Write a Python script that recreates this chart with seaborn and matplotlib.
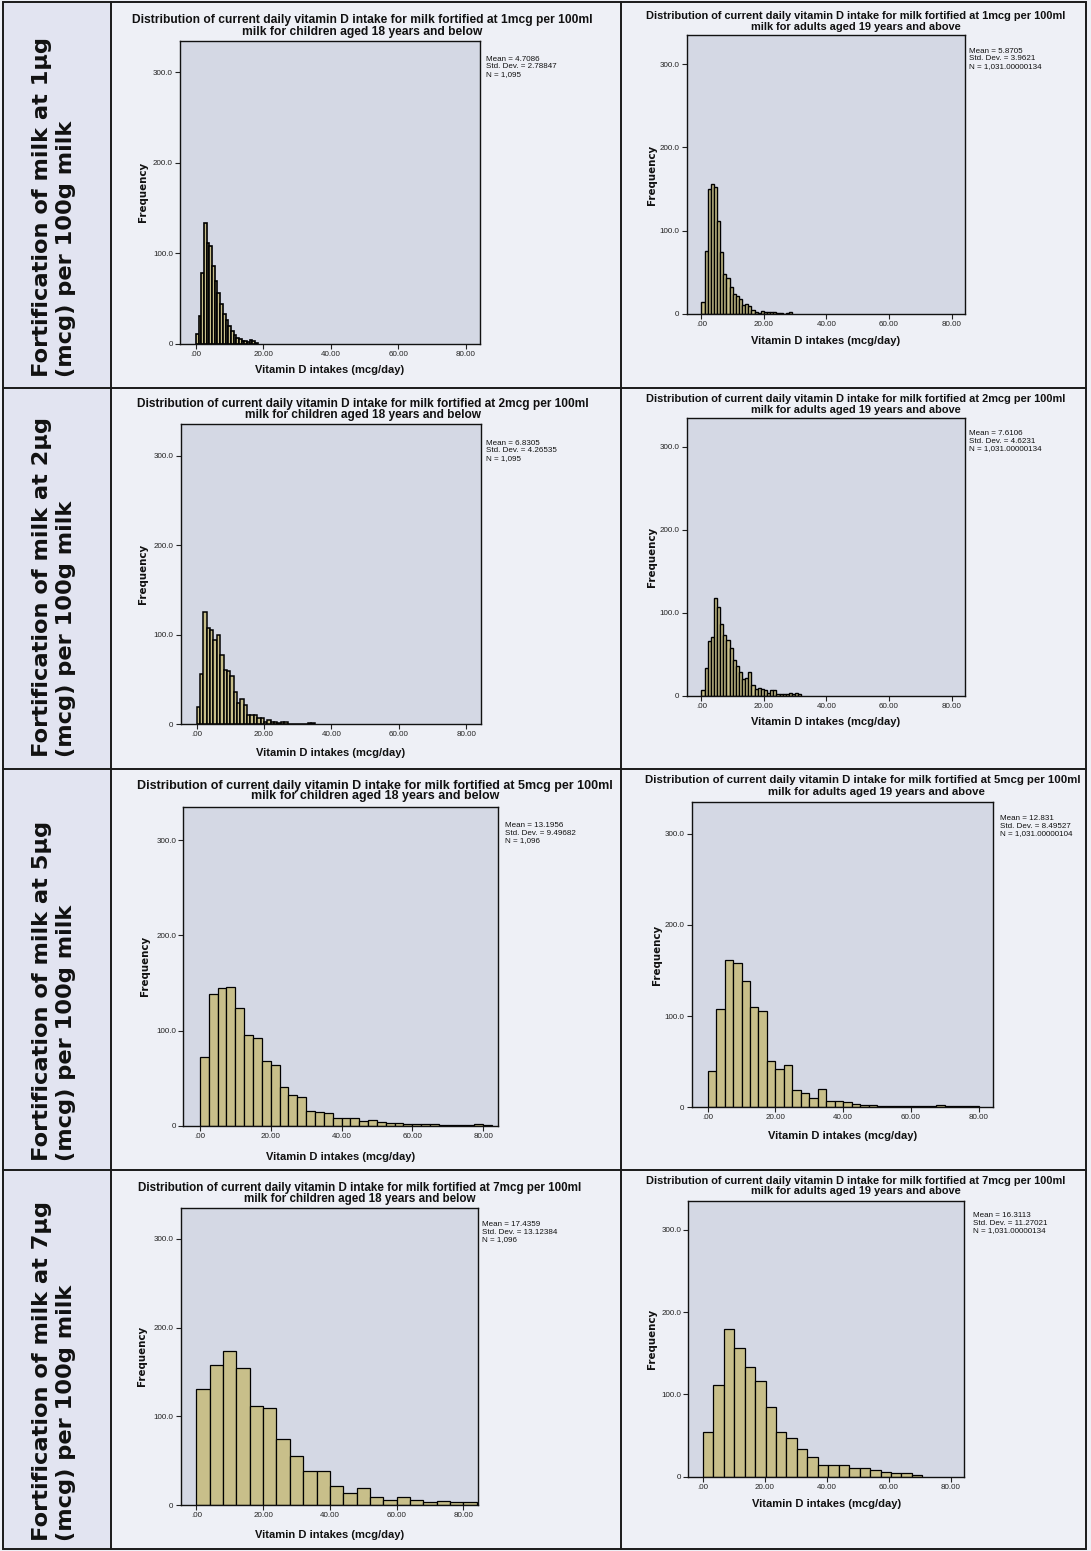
import numpy as np
import pandas as pd
import matplotlib
matplotlib.use("Agg")
import matplotlib.pyplot as plt
import seaborn as sns
from matplotlib.patches import Rectangle

# ------------------------------------------------------------------ data
row_labels = [
    "Fortification of milk at 1µg\n(mcg) per 100g milk",
    "Fortification of milk at 2µg\n(mcg) per 100g milk",
    "Fortification of milk at 5µg\n(mcg) per 100g milk",
    "Fortification of milk at 7µg\n(mcg) per 100g milk",
]
fortification_mcg = ["1", "2", "5", "7"]
title_line1 = "Distribution of current daily vitamin D intake for milk fortified at {}mcg per 100ml"
title_child = "milk for children aged 18 years and below"
title_adult = "milk for adults aged 19 years and above"
x_label = "Vitamin D intakes (mcg/day)"
y_label = "Frequency"

x_ticks = [0, 20, 40, 60, 80]
x_ticklabels = [".00", "20.00", "40.00", "60.00", "80.00"]
y_ticks = [0, 100, 200, 300]
y_ticklabels = ["0", "100.0", "200.0", "300.0"]

child_1mcg_counts = [11, 31, 78, 134, 112, 108, 86, 70, 56, 44, 33, 27, 20, 14, 10, 7, 5, 3, 3, 2, 4, 3, 1]
child_1mcg_bin = 0.8
adult_1mcg_counts = [14, 76, 150, 156, 152, 112, 75, 48, 43, 33, 24, 22, 18, 11, 12, 10, 5, 2, 1, 4, 3, 2, 3, 2, 1, 1, 0, 1, 2]
adult_1mcg_bin = 1.0
child_2mcg_counts = [19, 56, 125, 107, 105, 94, 100, 77, 61, 59, 54, 36, 24, 28, 21, 10, 10, 10, 7, 7, 3, 5, 3, 3, 2, 3, 3, 0, 0, 0, 0, 0, 0, 1, 1]
child_2mcg_bin = 1.0
adult_2mcg_counts = [7, 34, 66, 71, 118, 107, 87, 73, 68, 58, 43, 36, 29, 21, 22, 29, 13, 9, 10, 8, 7, 4, 7, 7, 3, 2, 3, 3, 4, 3, 4, 2]
adult_2mcg_bin = 1.0
child_5mcg_counts = [72, 139, 145, 146, 124, 95, 92, 68, 64, 41, 32, 30, 16, 15, 14, 8, 8, 8, 5, 6, 4, 3, 3, 2, 2, 2, 2, 1, 1, 1, 1, 2, 1]
child_5mcg_bin = 2.5
adult_5mcg_counts = [40, 108, 161, 158, 138, 110, 106, 51, 42, 46, 19, 16, 10, 20, 7, 7, 6, 4, 2, 2, 1, 1, 1, 1, 1, 1, 1, 3, 1, 1, 1, 1]
adult_5mcg_bin = 2.5
child_7mcg_counts = [131, 158, 173, 154, 111, 109, 74, 55, 38, 38, 21, 14, 19, 9, 6, 9, 6, 3, 4, 3, 3]
child_7mcg_bin = 4.0
adult_7mcg_counts = [54, 112, 179, 156, 133, 116, 85, 54, 47, 34, 24, 14, 14, 14, 10, 10, 8, 6, 5, 4, 2]
adult_7mcg_bin = 3.37

stats_child_1mcg = ["Mean = 4.7086", "Std. Dev. = 2.78847", "N = 1,095"]
stats_adult_1mcg = ["Mean = 5.8705", "Std. Dev. = 3.9621", "N = 1,031.00000134"]
stats_child_2mcg = ["Mean = 6.8305", "Std. Dev. = 4.26535", "N = 1,095"]
stats_adult_2mcg = ["Mean = 7.6106", "Std. Dev. = 4.6231", "N = 1,031.00000134"]
stats_child_5mcg = ["Mean = 13.1956", "Std. Dev. = 9.49682", "N = 1,096"]
stats_adult_5mcg = ["Mean = 12.831", "Std. Dev. = 8.49527", "N = 1,031.00000104"]
stats_child_7mcg = ["Mean = 17.4359", "Std. Dev. = 13.12384", "N = 1,096"]
stats_adult_7mcg = ["Mean = 16.3113", "Std. Dev. = 11.27021", "N = 1,031.00000134"]

# ------------------------------------------------------------------ style
sns.set_style("white")
plt.rcParams["font.family"] = ["Liberation Sans", "DejaVu Sans"]

W, H = 1091, 1551
CELL_BG = "#eef0f6"
LABEL_BG = "#e2e4f1"
PLOT_BG = "#d4d8e4"
BAR = "#c8bf8a"
LINE = "#1a1a1a"
XLIM = (-4.7, 84.3)
YLIM = (0, 335)

fig = plt.figure(figsize=(W / 100, H / 100), dpi=100, facecolor=CELL_BG)
bg = fig.add_axes([0, 0, 1, 1])
bg.set_xlim(0, W)
bg.set_ylim(H, 0)
bg.axis("off")

# table
bg.add_patch(Rectangle((3, 2), 108, 1547, facecolor=LABEL_BG, edgecolor="none"))
tbl_lw = 1.4
bg.add_patch(Rectangle((3, 2), 1083, 1547, facecolor="none", edgecolor=LINE, lw=tbl_lw))
for xx in [111, 621]:
    bg.plot([xx, xx], [2, 1549], color=LINE, lw=tbl_lw)
for yy in [388, 769, 1170]:
    bg.plot([3, 1086], [yy, yy], color=LINE, lw=tbl_lw)

renderer = fig.canvas.get_renderer()


def fit(t, target, vertical=False):
    bb = t.get_window_extent(renderer=renderer)
    w = bb.height if vertical else bb.width
    t.set_fontsize(t.get_fontsize() * target / w)
    return t.get_fontsize()


# row labels
row_bottoms = [377, 757, 1161, 1541]
for lab, yb in zip(row_labels, row_bottoms):
    first = bg.text(0, 0, lab.split("\n")[0], rotation=90, fontsize=16, fontweight="bold",
                    family="DejaVu Sans")
    fs = fit(first, 340, vertical=True)
    first.remove()
    bg.text(54, yb, lab, rotation=90, ha="center", va="bottom", multialignment="left",
            fontsize=fs, fontweight="bold", family="DejaVu Sans", color="#111111",
            linespacing=1.3)

# ------------------------------------------------------------------ panels
panels = [
    dict(counts=child_1mcg_counts, bw=child_1mcg_bin, stats=stats_child_1mcg, k="1", grp=title_child,
         frame=(180, 40.7, 480, 344), tcx=(362.5, 362.5), ty=(19.5, 31.5), tw=455, sxy=(486, 67), fx=143, xly=370, elw=1.2),
    dict(counts=adult_1mcg_counts, bw=adult_1mcg_bin, stats=stats_adult_1mcg, k="1", grp=title_adult,
         frame=(686.7, 35, 965, 314), tcx=(856, 856), ty=(15.7, 26.7), tw=418, sxy=(969, 59), fx=652, xly=340.7, elw=1.0),
    dict(counts=child_2mcg_counts, bw=child_2mcg_bin, stats=stats_child_2mcg, k="2", grp=title_child,
         frame=(180.7, 424.3, 480.7, 724.3), tcx=(363.3, 363.3), ty=(403.5, 415), tw=453, sxy=(486, 450.7), fx=143.3, xly=753.3, elw=1.1),
    dict(counts=adult_2mcg_counts, bw=adult_2mcg_bin, stats=stats_adult_2mcg, k="2", grp=title_adult,
         frame=(686.7, 417.7, 965, 696), tcx=(856, 856), ty=(399.5, 410), tw=418, sxy=(969, 441.3), fx=652.3, xly=721.7, elw=1.0),
    dict(counts=child_5mcg_counts, bw=child_5mcg_bin, stats=stats_child_5mcg, k="5", grp=title_child,
         frame=(183.3, 806.7, 498.3, 1126), tcx=(375, 375), ty=(785.5, 796.5), tw=474, sxy=(505, 833.3), fx=145, xly=1156.7, elw=0.9),
    dict(counts=adult_5mcg_counts, bw=adult_5mcg_bin, stats=stats_adult_5mcg, k="5", grp=title_adult,
         frame=(691.7, 801.7, 993.3, 1107.3), tcx=(863, 876), ty=(780, 791.7), tw=432, sxy=(1000, 826), fx=656.7, xly=1136, elw=0.9),
    dict(counts=child_7mcg_counts, bw=child_7mcg_bin, stats=stats_child_7mcg, k="7", grp=title_child,
         frame=(180.7, 1207.7, 477.7, 1505), tcx=(360, 360), ty=(1188.5, 1199), tw=443, sxy=(481.7, 1232.3), fx=142, xly=1535, elw=0.9),
    dict(counts=adult_7mcg_counts, bw=adult_7mcg_bin, stats=stats_adult_7mcg, k="7", grp=title_adult,
         frame=(688.3, 1201, 964.3, 1476.7), tcx=(856, 856), ty=(1180.5, 1191), tw=418, sxy=(973.3, 1223.3), fx=652.3, xly=1504.3, elw=0.9),
]

for p in panels:
    l, t_, r, b = p["frame"]
    ax = fig.add_axes([l / W, 1 - b / H, (r - l) / W, (b - t_) / H])
    counts = [float(c) for c in p["counts"]]
    edges = [i * p["bw"] for i in range(len(counts) + 1)]
    centers = [(edges[i] + edges[i + 1]) / 2 for i in range(len(counts))]
    df = pd.DataFrame({"intake": centers, "freq": counts})
    sns.histplot(data=df, x="intake", weights="freq", bins=edges, ax=ax, color=BAR,
                 edgecolor="black", linewidth=p["elw"], alpha=1.0)
    ax.set_facecolor(PLOT_BG)
    ax.set_xlim(*XLIM)
    ax.set_ylim(*YLIM)
    ax.set_xlabel("")
    ax.set_ylabel("")

    # title
    t1 = bg.text(p["tcx"][0], p["ty"][0], title_line1.format(p["k"]), ha="center", va="center",
                 fontsize=7.3, fontweight="bold", color="#111111")
    tfs = fit(t1, p["tw"])
    bg.text(p["tcx"][1], p["ty"][1], p["grp"], ha="center", va="center",
            fontsize=tfs, fontweight="bold", color="#111111")

    s = min(tfs / 7.3, 1.05)
    ax.set_xticks(x_ticks)
    ax.set_xticklabels(x_ticklabels)
    ax.set_yticks(y_ticks)
    ax.set_yticklabels(y_ticklabels)
    ax.tick_params(axis="both", direction="out", length=3.6, width=0.8, pad=1.5,
                   labelsize=5.5 * s, colors="#222222", bottom=True, left=True)
    for sp in ax.spines.values():
        sp.set_color("#111111")
        sp.set_linewidth(1.0)

    # axis labels
    bg.text((l + r) / 2, p["xly"], x_label, ha="center", va="center",
            fontsize=7.6 * s, fontweight="bold", color="#111111")
    bg.text(p["fx"], (t_ + b) / 2, y_label, rotation=90, ha="center", va="center",
            fontsize=7.0 * s, fontweight="bold", family="DejaVu Sans", color="#111111")

    # statistics box
    bg.text(p["sxy"][0], p["sxy"][1], "\n".join(p["stats"]), ha="left", va="center",
            fontsize=5.5 * s, color="#111111", linespacing=1.12)

fig.savefig("out.png", dpi=100, facecolor=CELL_BG)
